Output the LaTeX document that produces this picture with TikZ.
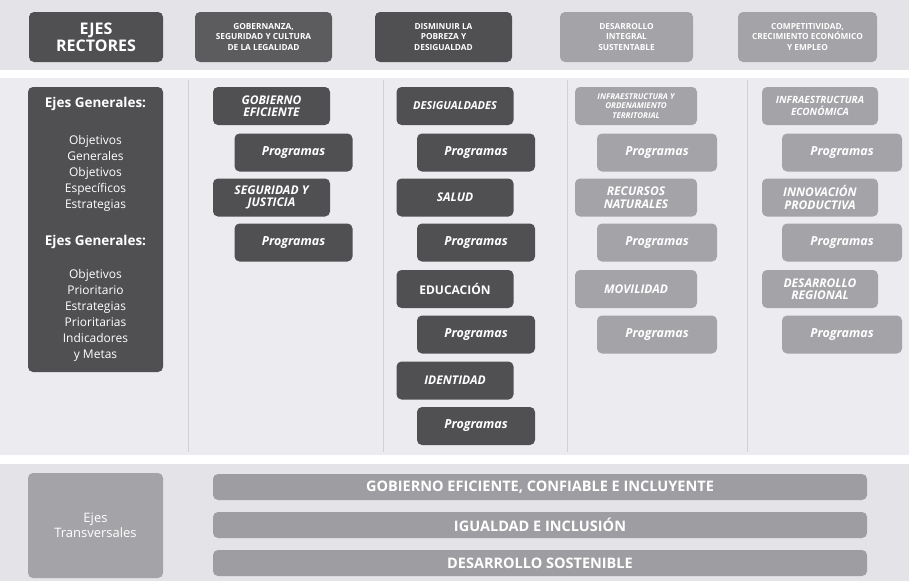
\documentclass[tikz,border=0pt]{standalone}
\usepackage{fontspec}
\setmainfont{Open Sans}
\definecolor{dk}{HTML}{505053}
\definecolor{md}{HTML}{5C5C5F}
\definecolor{lt}{HTML}{A4A4A8}
\definecolor{bar}{HTML}{9E9EA2}
\definecolor{bandA}{HTML}{E4E3E8}
\definecolor{bandB}{HTML}{ECEBEF}
\definecolor{sep}{HTML}{D2D1D6}
\tikzset{
  box/.style={rounded corners=5pt, inner sep=1pt, align=center, text=white,
    font=\bfseries, minimum height=38pt},
  topbox/.style={box, minimum height=50pt, font=\bfseries\fontsize{8.3}{10.5}\selectfont},
  head/.style={box, minimum width=117pt, font=\bfseries\itshape\fontsize{12}{12.5}\selectfont},
  small/.style={font=\bfseries\itshape\fontsize{8}{9.5}\selectfont},
  prog/.style={box, minimum width=118pt, font=\bfseries\itshape\fontsize{12.5}{13}\selectfont},
  barbox/.style={box, fill=bar, minimum width=654pt, minimum height=26pt,
    font=\bfseries\fontsize{14.5}{15}\selectfont},
}
\begin{document}
\begin{tikzpicture}[x=1pt,y=-1pt]
\useasboundingbox (0,0) rectangle (909,581);
% bands
\fill[white] (0,0) rectangle (909,581);
\fill[bandA] (0,0) rectangle (909,70);
\fill[bandB] (0,78) rectangle (909,455);
\fill[bandA] (0,464) rectangle (909,581);
% separators
\foreach \sx in {188,383,567,747} \draw[sep, line width=1pt] (\sx,80) -- (\sx,452);
% top row
\node[topbox, fill=dk, minimum width=134pt, font=\bfseries\fontsize{16}{17}\selectfont] (er) at (96,37) {EJES\\RECTORES};
\node[topbox, fill=md, minimum width=137pt] (g1) at (263.5,37) {GOBERNANZA,\\SEGURIDAD Y CULTURA\\DE LA LEGALIDAD};
\node[topbox, fill=dk, minimum width=137pt] (g2) at (443.5,37) {DISMINUIR LA\\POBREZA Y\\DESIGUALDAD};
\node[topbox, fill=lt, minimum width=133pt] (g3) at (626.5,37) {DESARROLLO\\INTEGRAL\\SUSTENTABLE};
\node[topbox, fill=lt, minimum width=139pt] (g4) at (807.5,37) {COMPETITIVIDAD,\\CRECIMIENTO ECONÓMICO\\Y EMPLEO};
% ejes generales
\node[box, fill=dk, minimum width=135pt, minimum height=285pt, font=\fontsize{12}{16}\selectfont] (eg) at (95.5,229.5)
 {{\bfseries\fontsize{13.5}{16}\selectfont Ejes Generales:}\\[21pt]
  Objetivos\\Generales\\Objetivos\\Específicos\\Estrategias\\[21pt]
  {\bfseries\fontsize{13.5}{16}\selectfont Ejes Generales:}\\[17pt]
  Objetivos\\Prioritario\\Estrategias\\Prioritarias\\Indicadores\\y Metas};
% column 2
\node[head, fill=dk] (c2h1) at (271.5,106) {GOBIERNO\\EFICIENTE};
\node[prog, fill=dk] (c2p1) at (293.5,152.5) {Programas};
\node[head, fill=dk] (c2h2) at (271.5,197.5) {SEGURIDAD Y\\JUSTICIA};
\node[prog, fill=dk] (c2p2) at (293.5,242.5) {Programas};
% column 3
\node[head, fill=dk, font=\bfseries\itshape\fontsize{11}{12}\selectfont] (c3h1) at (455,106) {DESIGUALDADES};
\node[prog, fill=dk] (c3p1) at (476,152.5) {Programas};
\node[head, fill=dk] (c3h2) at (455,197.5) {SALUD};
\node[prog, fill=dk] (c3p2) at (476,242.5) {Programas};
\node[head, fill=dk, font=\bfseries\fontsize{12}{12}\selectfont] (c3h3) at (455,289) {EDUCACIÓN};
\node[prog, fill=dk] (c3p3) at (476,334.5) {Programas};
\node[head, fill=dk] (c3h4) at (455,380.5) {IDENTIDAD};
\node[prog, fill=dk] (c3p4) at (476,426) {Programas};
% column 4
\node[head, fill=lt, minimum width=122pt, small] (c4h1) at (636,106) {INFRAESTRUCTURA Y\\ORDENAMIENTO\\TERRITORIAL};
\node[prog, fill=lt, minimum width=120pt] (c4p1) at (657,152.5) {Programas};
\node[head, fill=lt, minimum width=122pt] (c4h2) at (636,197.5) {RECURSOS\\NATURALES};
\node[prog, fill=lt, minimum width=120pt] (c4p2) at (657,242.5) {Programas};
\node[head, fill=lt, minimum width=122pt] (c4h3) at (636,289) {MOVILIDAD};
\node[prog, fill=lt, minimum width=120pt] (c4p3) at (657,334.5) {Programas};
% column 5
\node[head, fill=lt, minimum width=116pt, font=\bfseries\itshape\fontsize{10}{12}\selectfont] (c5h1) at (820,106) {INFRAESTRUCTURA\\ECONÓMICA};
\node[prog, fill=lt, minimum width=120pt] (c5p1) at (842,152.5) {Programas};
\node[head, fill=lt, minimum width=116pt] (c5h2) at (820,197.5) {INNOVACIÓN\\PRODUCTIVA};
\node[prog, fill=lt, minimum width=120pt] (c5p2) at (842,242.5) {Programas};
\node[head, fill=lt, minimum width=116pt] (c5h3) at (820,289) {DESARROLLO\\REGIONAL};
\node[prog, fill=lt, minimum width=120pt] (c5p3) at (842,334.5) {Programas};
% bottom
\node[box, fill=lt, minimum width=135pt, minimum height=105pt, font=\fontsize{13}{15}\selectfont] (et) at (95.5,525.5) {Ejes\\Transversales};
\node[barbox] (b1) at (540,487) {GOBIERNO EFICIENTE, CONFIABLE E INCLUYENTE};
\node[barbox] (b2) at (540,525) {IGUALDAD E INCLUSIÓN};
\node[barbox] (b3) at (540,563) {DESARROLLO SOSTENIBLE};
\end{tikzpicture}
\end{document}
